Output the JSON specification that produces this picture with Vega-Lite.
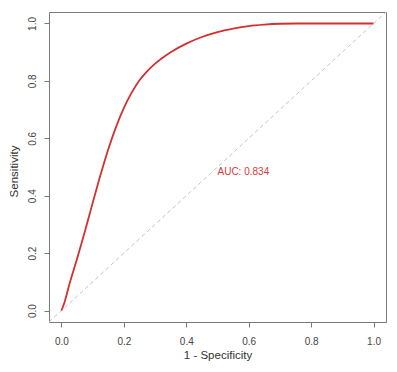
{
  "$schema": "https://vega.github.io/schema/vega-lite/v6.json",
  "width": 337,
  "height": 310,
  "autosize": "none",
  "padding": {"left": 49, "top": 12, "right": 11, "bottom": 50},
  "background": "white",
  "datasets": {
    "roc": [
      {"fpr": 0, "tpr": 0},
      {"fpr": 0.01, "tpr": 0.03},
      {"fpr": 0.025, "tpr": 0.09},
      {"fpr": 0.05, "tpr": 0.18},
      {"fpr": 0.075, "tpr": 0.275},
      {"fpr": 0.1, "tpr": 0.375},
      {"fpr": 0.125, "tpr": 0.472},
      {"fpr": 0.15, "tpr": 0.562},
      {"fpr": 0.175, "tpr": 0.64},
      {"fpr": 0.2, "tpr": 0.706},
      {"fpr": 0.225, "tpr": 0.759},
      {"fpr": 0.25, "tpr": 0.802},
      {"fpr": 0.275, "tpr": 0.834},
      {"fpr": 0.3, "tpr": 0.86},
      {"fpr": 0.35, "tpr": 0.9},
      {"fpr": 0.4, "tpr": 0.93},
      {"fpr": 0.45, "tpr": 0.953},
      {"fpr": 0.5, "tpr": 0.97},
      {"fpr": 0.55, "tpr": 0.982},
      {"fpr": 0.6, "tpr": 0.991},
      {"fpr": 0.65, "tpr": 0.996},
      {"fpr": 0.7, "tpr": 0.999},
      {"fpr": 0.75, "tpr": 1.0},
      {"fpr": 0.8, "tpr": 1.0},
      {"fpr": 0.9, "tpr": 1.0},
      {"fpr": 1.0, "tpr": 1.0}
    ],
    "diag": [
      {"fpr": -0.04, "tpr": -0.04},
      {"fpr": 1.04, "tpr": 1.04}
    ],
    "label": [
      {"fpr": 0.5, "tpr": 0.482, "text": "AUC: 0.834"}
    ]
  },
  "layer": [
    {
      "data": {"name": "diag"},
      "mark": {"type": "line", "color": "#c4c4c4", "strokeWidth": 1, "strokeDash": [4, 3]},
      "encoding": {
        "x": {"field": "fpr", "type": "quantitative"},
        "y": {"field": "tpr", "type": "quantitative"}
      }
    },
    {
      "data": {"name": "roc"},
      "mark": {"type": "line", "color": "#d42f2f", "strokeWidth": 1.8, "interpolate": "monotone"},
      "encoding": {
        "x": {"field": "fpr", "type": "quantitative"},
        "y": {"field": "tpr", "type": "quantitative"}
      }
    },
    {
      "data": {"name": "label"},
      "mark": {"type": "text", "color": "#d63a3a", "font": "Liberation Sans", "fontSize": 10, "align": "left", "baseline": "middle"},
      "encoding": {
        "x": {"field": "fpr", "type": "quantitative"},
        "y": {"field": "tpr", "type": "quantitative"},
        "text": {"field": "text"}
      }
    }
  ],
  "encoding": {
    "x": {
      "field": "fpr",
      "type": "quantitative",
      "scale": {"domain": [-0.04, 1.04], "nice": false, "zero": false},
      "axis": {
        "title": "1 - Specificity",
        "values": [0, 0.2, 0.4, 0.6, 0.8, 1.0],
        "format": ".1f",
        "labelBaseline": "top",
        "labelPadding": 9,
        "titleBaseline": "alphabetic",
        "titleY": 36
      }
    },
    "y": {
      "field": "tpr",
      "type": "quantitative",
      "scale": {"domain": [-0.04, 1.04], "nice": false, "zero": false},
      "axis": {
        "title": "Sensitivity",
        "values": [0, 0.2, 0.4, 0.6, 0.8, 1.0],
        "format": ".1f",
        "labelAngle": 270,
        "labelAlign": "center",
        "labelBaseline": "alphabetic",
        "labelPadding": 9,
        "titleAngle": 270,
        "titleAlign": "center",
        "titleBaseline": "alphabetic",
        "titleX": -31.5,
        "titleY": 159
      }
    }
  },
  "config": {
    "view": {"stroke": "#7a7a7a", "strokeWidth": 1},
    "axis": {
      "domain": false,
      "grid": false,
      "ticks": true,
      "tickColor": "#7a7a7a",
      "tickSize": 5,
      "labelFont": "Liberation Sans",
      "labelFontSize": 10,
      "labelColor": "#444444",
      "labelOverlap": false,
      "labelFlush": false,
      "titleFont": "Liberation Sans",
      "titleFontSize": 11.5,
      "titleFontWeight": "normal",
      "titleColor": "#333333"
    }
  }
}
